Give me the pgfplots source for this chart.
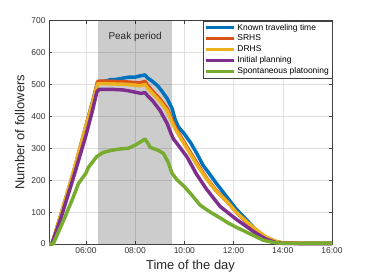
\documentclass[border=0pt]{standalone}
\usepackage{pgfplots}
\pgfplotsset{compat=1.18}
\usepackage{fontspec}
\setmainfont{Liberation Sans}
\definecolor{mblue}{rgb}{0,0.447,0.741}
\definecolor{mred}{rgb}{0.85,0.325,0.098}
\definecolor{myellow}{rgb}{0.929,0.694,0.125}
\definecolor{mpurple}{rgb}{0.494,0.184,0.556}
\definecolor{mgreen}{rgb}{0.466,0.674,0.188}
\begin{document}
\begin{tikzpicture}
\begin{axis}[
 scale only axis, width=283bp, height=223.3bp,
 xmin=4.5, xmax=16, ymin=0, ymax=700,
 xtick={6,8,10,12,14,16}, xticklabels={06:00,08:00,10:00,12:00,14:00,16:00},
 ytick={0,100,...,700},
 grid=major, major grid style={black!12, line width=0.5pt},
 axis line style={black!75, line width=0.5pt},
 tick style={black!75, line width=0.5pt}, major tick length=3bp,
 tick label style={font=\fontsize{8.5}{10}\selectfont, text=black!80},
 /pgf/number format/assume math mode=true,
 xlabel={Time of the day}, ylabel={Number of followers},
 label style={font=\fontsize{13}{15}\selectfont, text=black!85},
 legend style={at={(1,1)}, anchor=north east, font=\fontsize{8.5}{10}\selectfont, draw=black!75, line width=0.5pt, inner sep=1pt, row sep=-0.6pt, cells={anchor=west}},
 legend image code/.code={\draw[#1, line width=3.5pt] (0bp,0bp) -- (28bp,0bp);},
 clip=false,
 every axis plot/.append style={line width=3.5pt, line join=round},
]
\coordinate (ll) at (rel axis cs:0,0);
\coordinate (ur) at (rel axis cs:1,1);
\fill[black, opacity=0.2] (axis cs:6.5,0) rectangle (axis cs:9.5,700);
\node[font=\fontsize{10}{12}\selectfont, text=black!85] at (axis cs:8,650) {Peak period};

\addplot[mblue] coordinates {
(4.5,0) (4.62,0) (5.0,95) (5.5,225) (6.0,370) (6.3,455) (6.48,508) (6.75,510) (7.0,515) (7.25,516) (7.5,520) (7.75,523) (8.0,523) (8.2,527) (8.4,530) (8.5,521) (8.7,510) (8.9,497) (9.1,478) (9.3,456) (9.5,425) (9.62,392) (9.75,368) (10.0,345) (10.25,318) (10.5,285) (10.75,248) (11.0,222) (11.3,190) (11.75,145) (12.1,110) (12.5,78) (12.9,45) (13.3,20) (13.7,7) (14.0,3) (15.0,2) (16.0,2)
};
\addlegendentry{Known traveling time}
\addplot[mred] coordinates {
(4.5,0) (4.62,0) (5.0,95) (5.5,225) (6.0,368) (6.3,452) (6.48,510) (6.75,511) (7.0,510) (7.5,509) (8.0,506) (8.2,505) (8.4,510) (8.5,498) (8.7,480) (9.0,455) (9.3,425) (9.5,388) (9.62,368) (9.75,350) (10.1,305) (10.5,255) (10.9,207) (11.3,167) (11.75,132) (12.1,100) (12.5,70) (12.9,42) (13.3,19) (13.7,8) (14.0,3) (15.0,2) (16.0,2)
};
\addlegendentry{SRHS}
\addplot[myellow] coordinates {
(4.5,0) (4.62,0) (5.0,97) (5.5,228) (6.0,370) (6.3,452) (6.48,503) (6.75,503) (7.0,502) (7.5,501) (8.0,498) (8.2,496) (8.4,500) (8.5,490) (8.7,473) (9.0,448) (9.3,418) (9.5,382) (9.62,362) (9.75,345) (10.1,300) (10.5,250) (10.9,204) (11.3,165) (11.75,132) (12.1,100) (12.5,72) (12.9,46) (13.3,23) (13.7,9) (14.0,3) (15.0,2) (16.0,2)
};
\addlegendentry{DRHS}
\addplot[mpurple] coordinates {
(4.5,0) (4.62,0) (5.0,85) (5.16,125) (5.5,210) (6.0,340) (6.24,410) (6.45,478) (6.55,485) (7.0,485) (7.5,483) (7.75,480) (8.0,476) (8.25,472) (8.4,475) (8.5,465) (8.7,450) (9.0,420) (9.3,378) (9.45,348) (9.55,330) (9.7,315) (10.1,274) (10.5,218) (10.9,172) (11.45,118) (12.1,78) (12.5,56) (12.85,37) (13.3,16) (13.7,5) (14.0,2) (15.0,1) (16.0,1)
};
\addlegendentry{Initial planning}
\addplot[mgreen] coordinates {
(4.5,0) (4.67,0) (5.16,86) (5.5,150) (5.7,190) (6.0,222) (6.1,240) (6.44,274) (6.7,287) (7.05,294) (7.4,298) (7.72,300) (8.0,310) (8.13,316) (8.4,329) (8.5,318) (8.61,303) (8.93,294) (9.15,284) (9.35,255) (9.49,223) (9.69,202) (10.0,180) (10.23,160) (10.64,122) (11.05,100) (11.45,82) (11.8,65) (12.12,52) (12.4,42) (12.8,27) (13.2,12) (13.6,5) (14.0,2) (14.5,2) (16.0,3)
};
\addlegendentry{Spontaneous platooning}
\end{axis}
\pgfresetboundingbox
\path ([shift={(-49bp,-32bp)}]ll) rectangle ([shift={(36bp,20.7bp)}]ur);
\end{tikzpicture}
\end{document}
